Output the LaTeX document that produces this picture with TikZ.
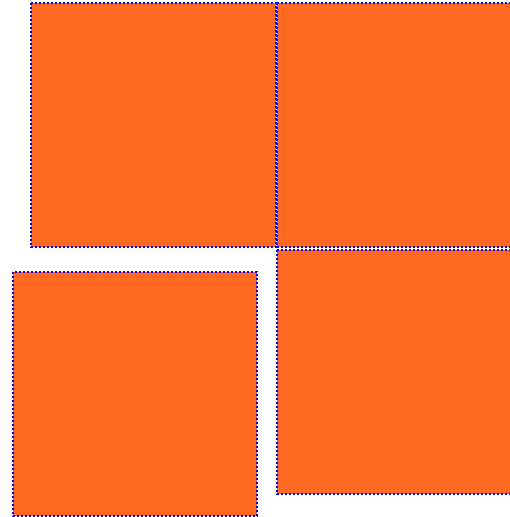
\documentclass[tikz,border=0pt]{standalone}
\definecolor{tileorange}{RGB}{255,105,33}
\usepackage{tikz}

\begin{document}
\begin{tikzpicture}[x=1pt,y=-1pt]
    \tikzset{tile/.style={fill=tileorange,draw=blue,dash pattern=on 2pt off 2pt,line width=1.5pt}}
    \useasboundingbox (0,0) rectangle (510,517);

    % Upper row
    \draw[tile] (31,3) rectangle (276,247);
    \draw[tile] (277,3) rectangle (522,247);

    % Lower row
    \draw[tile] (13,272) rectangle (257,516);
    \draw[tile] (277,250) rectangle (522,494);
\end{tikzpicture}
\end{document}
